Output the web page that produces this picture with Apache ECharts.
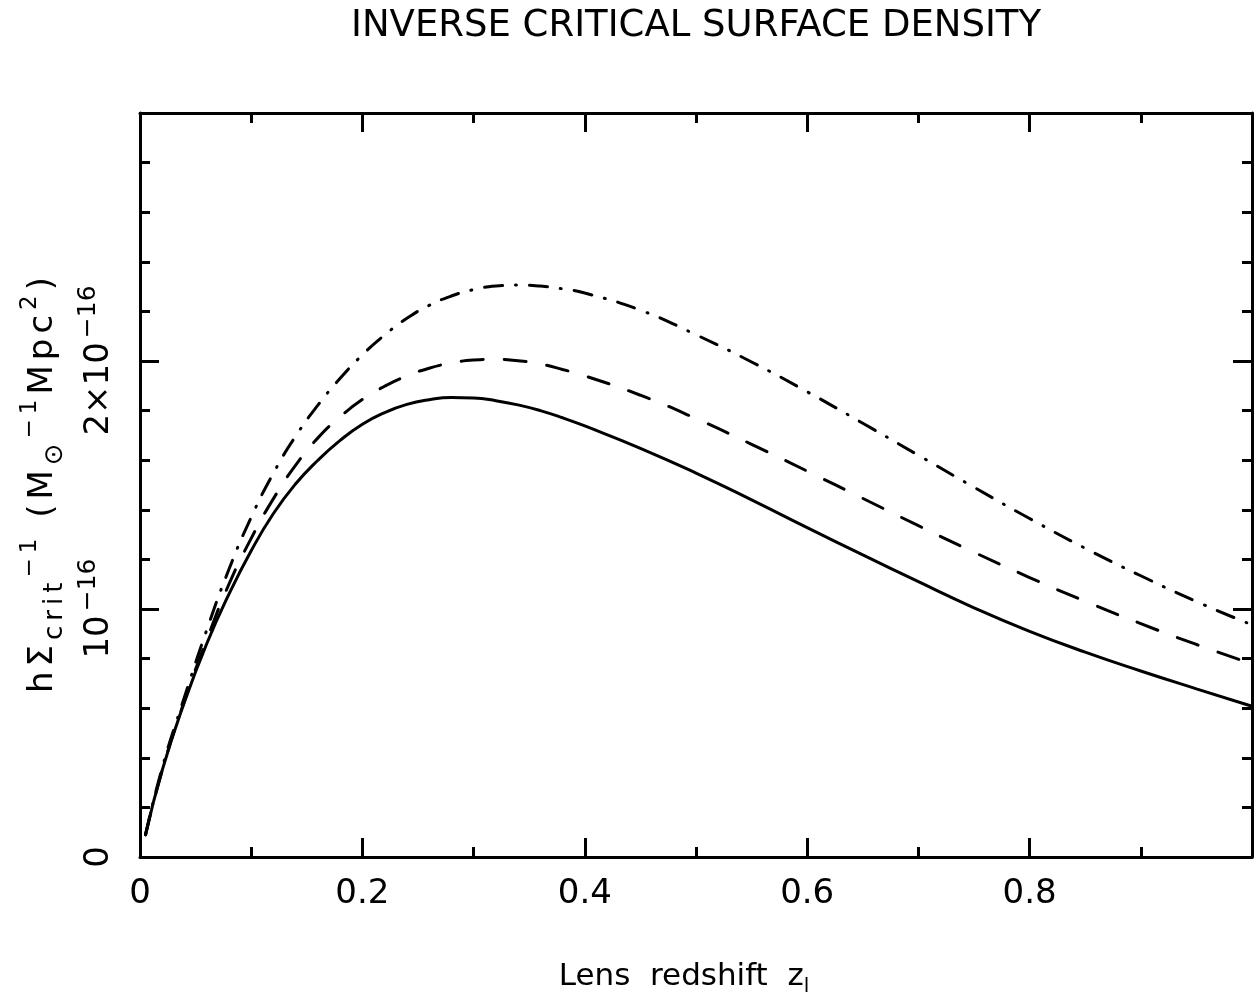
<!DOCTYPE html>
<html>
<head>
<meta charset="utf-8">
<script src="https://cdn.jsdelivr.net/npm/echarts@6/dist/echarts.min.js"></script>
<style>
html,body{margin:0;padding:0;background:#fff;}
#chart{width:1260px;height:1005px;}
</style>
</head>
<body>
<div id="chart"></div>
<script>
// Lens redshift grid
var zValues = [0.005, 0.02, 0.04, 0.06, 0.08, 0.10, 0.12, 0.14, 0.16, 0.18, 0.20, 0.22, 0.24, 0.26, 0.28, 0.30, 0.32, 0.34, 0.36, 0.38, 0.40, 0.45, 0.50, 0.55, 0.60, 0.65, 0.70, 0.75, 0.80, 0.85, 0.90, 0.95, 1.00];
// Inverse critical surface density, units of 1e-16
var solidValues = [0.09, 0.35, 0.625, 0.86, 1.06, 1.235, 1.385, 1.505, 1.60, 1.68, 1.745, 1.792, 1.825, 1.844, 1.853, 1.851, 1.840, 1.823, 1.800, 1.771, 1.738, 1.648, 1.548, 1.440, 1.328, 1.218, 1.110, 1.005, 0.910, 0.826, 0.750, 0.678, 0.608];
var dashedValues = [0.09, 0.35, 0.63, 0.875, 1.10, 1.285, 1.445, 1.58, 1.69, 1.775, 1.845, 1.898, 1.940, 1.971, 1.992, 2.004, 2.007, 2.001, 1.988, 1.966, 1.940, 1.862, 1.768, 1.664, 1.556, 1.446, 1.336, 1.229, 1.127, 1.031, 0.941, 0.857, 0.779];
var dashDotValues = [0.09, 0.36, 0.645, 0.915, 1.160, 1.370, 1.548, 1.697, 1.822, 1.930, 2.025, 2.105, 2.172, 2.224, 2.262, 2.288, 2.302, 2.306, 2.302, 2.291, 2.274, 2.205, 2.106, 1.996, 1.876, 1.749, 1.620, 1.491, 1.365, 1.245, 1.134, 1.030, 0.936];
var xTickLabels = {0: '0', 0.2: '0.2', 0.4: '0.4', 0.6: '0.6', 0.8: '0.8'};
var yTickLabels = {0: '0', 1: '{b|10}{s|\u221216}', 2: '{b|2\u00d710}{s|\u221216}'};

function pairs(vals) { return zValues.map(function (z, i) { return [z, vals[i]]; }); }

var FONT = 'DejaVu Sans';
var tickStyle = {width: 3, color: '#000'};
var chart = echarts.init(document.getElementById('chart'), null, {renderer: 'canvas'});

var yName = '{m|h}{m|\u03a3}{sb|c}{sb|r}{sb|i}{sb|t}{sp|\u2212}{sp|1}{m| }{m|(}{m|M}{sb|\u2299}{sp|\u2212}{sp|1}{m|M}{m|p}{m|c}{sp|2}{m|)}';

var option = {
  backgroundColor: '#fff',
  animation: false,
  title: {
    text: 'INVERSE CRITICAL SURFACE DENSITY',
    left: 346, top: 3,
    textStyle: {fontFamily: FONT, fontSize: 37, fontWeight: 'normal', color: '#000'}
  },
  grid: {left: 140, right: 8, top: 113, bottom: 148},
  xAxis: [{
    type: 'value', min: 0, max: 1, interval: 0.2, position: 'bottom',
    axisLine: {show: true, onZero: false, lineStyle: tickStyle},
    axisTick: {show: true, inside: true, length: 19, lineStyle: tickStyle},
    minorTick: {show: true, splitNumber: 2, length: 10, lineStyle: tickStyle},
    splitLine: {show: false},
    axisLabel: {
      margin: 20, fontFamily: FONT, fontSize: 34, color: '#000',
      formatter: function (v) { var k = Math.round(v * 10) / 10; return xTickLabels[k] !== undefined ? xTickLabels[k] : ''; }
    },
    name: 'Lens  redshift  z{s|l}',
    nameLocation: 'middle', nameGap: 100,
    nameTextStyle: {fontFamily: FONT, fontSize: 31, color: '#000', lineHeight: 40, padding: [0, 24, 0, 0],
      rich: {s: {fontFamily: FONT, fontSize: 20, color: '#000', lineHeight: 20, verticalAlign: 'bottom'}}}
  }, {
    type: 'value', min: 0, max: 1, interval: 0.2, position: 'top',
    axisLine: {show: true, onZero: false, lineStyle: tickStyle},
    axisTick: {show: true, inside: true, length: 19, lineStyle: tickStyle},
    minorTick: {show: true, splitNumber: 2, length: 10, lineStyle: tickStyle},
    splitLine: {show: false}, axisLabel: {show: false}
  }],
  yAxis: [{
    type: 'value', min: 0, max: 3, interval: 1, position: 'left',
    axisLine: {show: true, onZero: false, lineStyle: tickStyle},
    axisTick: {show: true, inside: true, length: 19, lineStyle: tickStyle},
    minorTick: {show: true, splitNumber: 5, length: 10, lineStyle: tickStyle},
    splitLine: {show: false},
    axisLabel: {
      rotate: 90, margin: 18, fontFamily: FONT, fontSize: 34, color: '#000', lineHeight: 46,
      formatter: function (v) { var k = Math.round(v); return yTickLabels[k] !== undefined ? yTickLabels[k] : ''; },
      rich: {
        b: {fontFamily: FONT, fontSize: 34, color: '#000', lineHeight: 46, padding: [0, 1, 0, 1]},
        s: {fontFamily: FONT, fontSize: 25, color: '#000', lineHeight: 25, verticalAlign: 'top', padding: [0, 0, 0, 3]}
      }
    },
    name: yName,
    nameLocation: 'middle', nameRotate: 90, nameGap: 68,
    nameTextStyle: {fontFamily: FONT, fontSize: 34, color: '#000', lineHeight: 50,
      rich: {
        m: {fontFamily: FONT, fontSize: 34, color: '#000', lineHeight: 50, padding: [0, 2.5, 0, 2.5]},
        sb: {fontFamily: FONT, fontSize: 26, color: '#000', lineHeight: 26, verticalAlign: 'bottom', padding: [0, 2.5, 0, 2.5]},
        sp: {fontFamily: FONT, fontSize: 23, color: '#000', lineHeight: 23, verticalAlign: 'top', padding: [0, 2.5, 0, 2.5]}
      }}
  }, {
    type: 'value', min: 0, max: 3, interval: 1, position: 'right',
    axisLine: {show: true, onZero: false, lineStyle: tickStyle},
    axisTick: {show: true, inside: true, length: 19, lineStyle: tickStyle},
    minorTick: {show: true, splitNumber: 5, length: 10, lineStyle: tickStyle},
    splitLine: {show: false}, axisLabel: {show: false}
  }],
  series: [{
    type: 'line', xAxisIndex: 0, yAxisIndex: 0, data: pairs(solidValues),
    smooth: true, showSymbol: false, silent: true,
    lineStyle: {color: '#000', width: 3, type: 'solid', cap: 'round'}
  }, {
    type: 'line', xAxisIndex: 0, yAxisIndex: 0, data: pairs(dashedValues),
    smooth: true, showSymbol: false, silent: true,
    lineStyle: {color: '#000', width: 3, type: [22, 21], cap: 'round'}
  }, {
    type: 'line', xAxisIndex: 0, yAxisIndex: 0, data: pairs(dashDotValues),
    smooth: true, showSymbol: false, silent: true,
    lineStyle: {color: '#000', width: 3, type: [18, 13, 1, 13], cap: 'round'}
  }]
};
chart.setOption(option);
</script>
</body>
</html>
